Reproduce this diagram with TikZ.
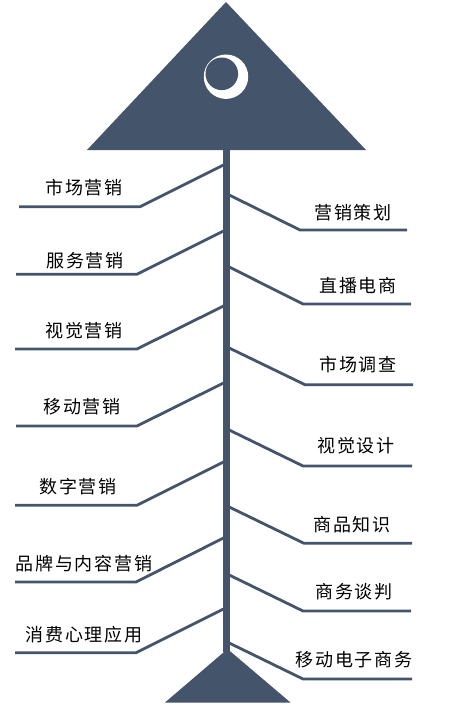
\documentclass[tikz,border=0pt]{standalone}
\usepackage{fontspec}
\newfontfamily\cjk[LetterSpace=10]{Noto Sans CJK SC}
\definecolor{slate}{HTML}{44546A}
\begin{document}
\begin{tikzpicture}[x=1pt,y=-1pt,
  branch/.style={draw=slate,line width=2.8pt,line join=miter},
  lbl/.style={font=\cjk\fontsize{18}{18}\selectfont,text=black,inner sep=0pt,anchor=center}]
\useasboundingbox (0,0) rectangle (462,715);
% head
\fill[slate] (87,150) -- (226,2) -- (366,150) -- cycle;
\fill[white] (226,76.7) circle (22.2);
\fill[slate] (221.8,73.8) circle (16.3);
% spine
\fill[slate] (222.7,148) rectangle (230,652);
% tail
\fill[slate] (165,702.5) -- (227.5,649) -- (290.5,702.5) -- cycle;
% left branches
\foreach \n/\ys/\yh/\xk/\xe in {1/165/206.7/140/19, 2/231/274.3/137/16, 3/306/349/137/15, 4/383/426/137/16, 5/462/505.3/137/15, 6/538/582/136/15, 7/609/652.7/136/15}{
  \coordinate (ls\n) at (223.5,\ys);
  \coordinate (lk\n) at (\xk,\yh);
  \coordinate (le\n) at (\xe,\yh);
  \draw[branch] (ls\n) -- (lk\n) -- (le\n);
}
% right branches
\foreach \n/\ys/\yh/\xk/\xe in {1/195/230/300/407, 2/267/304/303/411, 3/348/384.7/305/413, 4/430/466/303/412, 5/507/543.3/304/412, 6/575/611/303/411, 7/643/679/303/412}{
  \coordinate (rs\n) at (229.2,\ys);
  \coordinate (rk\n) at (\xk,\yh);
  \coordinate (re\n) at (\xe,\yh);
  \draw[branch] (rs\n) -- (rk\n) -- (re\n);
}
% labels
\node[lbl] (t1) at (84,188) {市场营销};
\node[lbl] (t2) at (85,261) {服务营销};
\node[lbl] (t3) at (84,330.7) {视觉营销};
\node[lbl] (t4) at (82,406.7) {移动营销};
\node[lbl] (t5) at (78,486.7) {数字营销};
\node[lbl] (t6) at (84,564) {品牌与内容营销};
\node[lbl] (t7) at (84,635) {消费心理应用};
\node[lbl] (u1) at (353,212.7) {营销策划};
\node[lbl] (u2) at (358,286) {直播电商};
\node[lbl] (u3) at (358,365) {市场调查};
\node[lbl] (u4) at (356,446) {视觉设计};
\node[lbl] (u5) at (352,525) {商品知识};
\node[lbl] (u6) at (354,591.7) {商务谈判};
\node[lbl] (u7) at (354,660) {移动电子商务};
\end{tikzpicture}
\end{document}
